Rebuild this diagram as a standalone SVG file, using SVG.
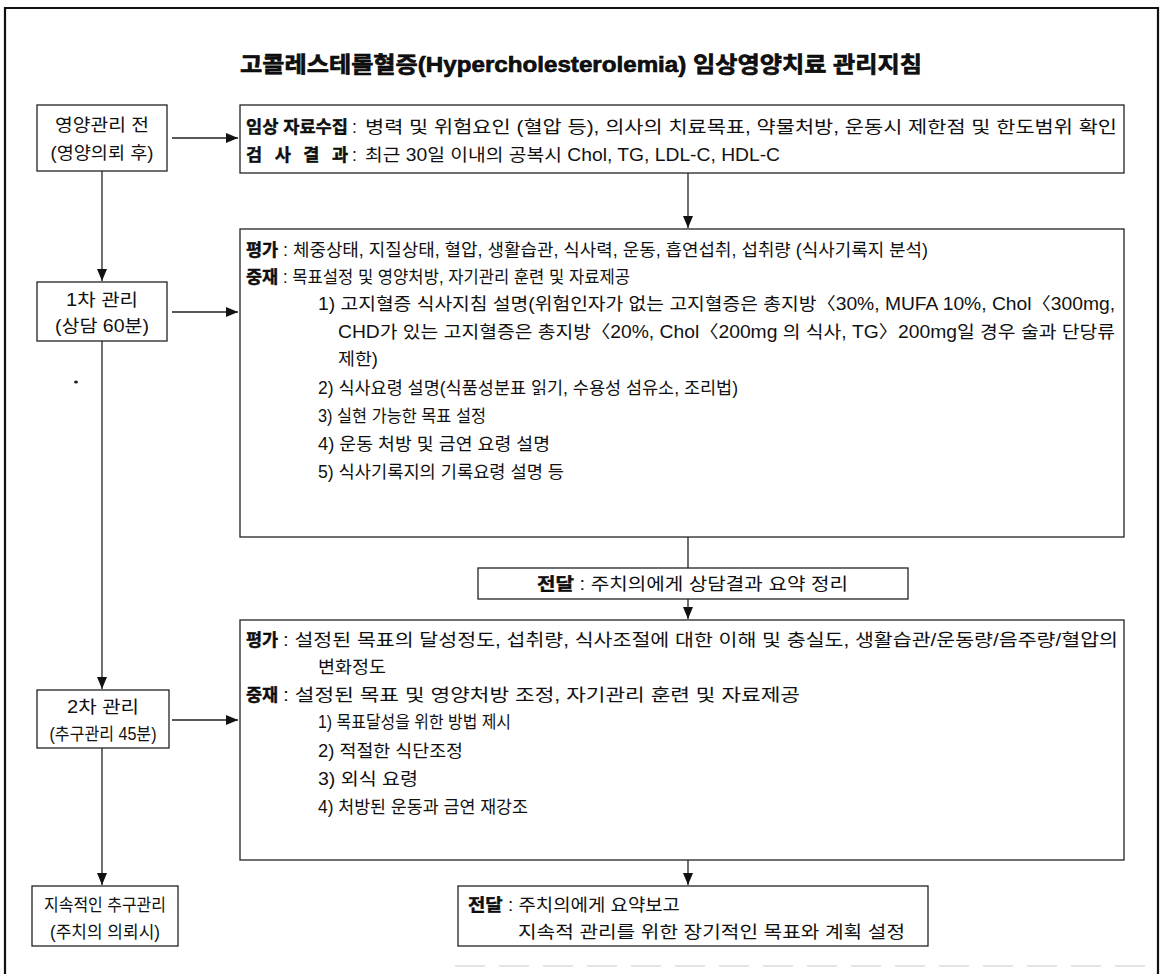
<svg xmlns="http://www.w3.org/2000/svg" width="1163" height="974" viewBox="0 0 1163 974">
<style>
text{font-family:"Liberation Sans","Noto Sans CJK KR",sans-serif;fill:#111;font-size:17.5px}
.t{font-size:22px;font-weight:bold;text-anchor:middle;stroke:#000;stroke-width:0.6}
.c{text-anchor:middle}
.b{font-weight:bold;stroke:#000;stroke-width:0.4}
.box{fill:#fff;stroke:#222;stroke-width:1.3}
.ln{stroke:#222;stroke-width:1.3;fill:none}
.frame{stroke:#111;stroke-width:2.2;fill:none}
</style>
<defs>
<marker id="ah" viewBox="0 0 12 10" refX="12" refY="5" markerWidth="12" markerHeight="10" markerUnits="userSpaceOnUse" orient="auto">
<path d="M0,0 L12,5 L0,10 Z" fill="#111"/>
</marker>
</defs>
<rect width="1163" height="974" fill="#fff"/>
<path class="frame" d="M5,974 V8 H1158 V974"/>
<path d="M455,966 H1155" stroke="#ddd" stroke-width="1.5" stroke-dasharray="30,14" fill="none"/>
<text class="t" x="581" y="72" textLength="682" lengthAdjust="spacingAndGlyphs">고콜레스테롤혈증(Hypercholesterolemia) 임상영양치료 관리지침</text>
<ellipse cx="76" cy="382" rx="2" ry="1.6" fill="#222"/>

<g id="connectors">
<line class="ln" x1="172" y1="138" x2="238" y2="138" marker-end="url(#ah)"/>
<line class="ln" x1="102" y1="171" x2="102" y2="281" marker-end="url(#ah)"/>
<line class="ln" x1="172" y1="312" x2="238" y2="312" marker-end="url(#ah)"/>
<line class="ln" x1="102" y1="341" x2="102" y2="689" marker-end="url(#ah)"/>
<line class="ln" x1="172" y1="720" x2="238" y2="720" marker-end="url(#ah)"/>
<line class="ln" x1="102" y1="748" x2="102" y2="885" marker-end="url(#ah)"/>
<line class="ln" x1="688" y1="173" x2="688" y2="228" marker-end="url(#ah)"/>
<line class="ln" x1="688" y1="537" x2="688" y2="568"/>
<line class="ln" x1="688" y1="599" x2="688" y2="619" marker-end="url(#ah)"/>
<line class="ln" x1="688" y1="860" x2="688" y2="885" marker-end="url(#ah)"/>
</g>

<g id="pre">
<rect class="box" x="37" y="105" width="130" height="66"/>
<text class="c" x="102" y="131" textLength="94" lengthAdjust="spacingAndGlyphs">영양관리 전</text>
<text class="c" x="102" y="159" textLength="103" lengthAdjust="spacingAndGlyphs">(영양의뢰 후)</text>
</g>

<g id="first">
<rect class="box" x="37" y="282" width="130" height="59"/>
<text class="c" x="102" y="306" textLength="72" lengthAdjust="spacingAndGlyphs">1차 관리</text>
<text class="c" x="102" y="332" textLength="94" lengthAdjust="spacingAndGlyphs">(상담 60분)</text>
</g>

<g id="second">
<rect class="box" x="37" y="690" width="132" height="58"/>
<text class="c" x="103" y="713" textLength="72" lengthAdjust="spacingAndGlyphs">2차 관리</text>
<text class="c" x="103" y="740" textLength="107" lengthAdjust="spacingAndGlyphs">(추구관리 45분)</text>
</g>

<g id="followup">
<rect class="box" x="32" y="886" width="146" height="60"/>
<text class="c" x="105" y="911" textLength="122" lengthAdjust="spacingAndGlyphs">지속적인 추구관리</text>
<text class="c" x="105" y="938" textLength="110" lengthAdjust="spacingAndGlyphs">(주치의 의뢰시)</text>
</g>

<g id="data">
<rect class="box" x="240" y="105" width="884" height="68"/>
<text class="b" x="246" y="133" textLength="102" lengthAdjust="spacingAndGlyphs">임상 자료수집</text>
<text x="352" y="133">:</text>
<text x="365" y="133" textLength="752" lengthAdjust="spacingAndGlyphs">병력 및 위험요인 (혈압 등), 의사의 치료목표, 약물처방, 운동시 제한점 및 한도범위 확인</text>
<text class="b" x="246" y="161" textLength="102" lengthAdjust="spacing">검 사 결 과</text>
<text x="352" y="161">:</text>
<text x="365" y="161" textLength="415" lengthAdjust="spacingAndGlyphs">최근 30일 이내의 공복시 Chol, TG, LDL-C, HDL-C</text>
</g>

<g id="session1">
<rect class="box" x="240" y="229" width="884" height="308"/>
<text class="b" x="246" y="256">평가</text>
<text x="283" y="256" textLength="645" lengthAdjust="spacingAndGlyphs">: 체중상태, 지질상태, 혈압, 생활습관, 식사력, 운동, 흡연섭취, 섭취량 (식사기록지 분석)</text>
<text class="b" x="246" y="283">중재</text>
<text x="283" y="283" textLength="347" lengthAdjust="spacingAndGlyphs">: 목표설정 및 영양처방, 자기관리 훈련 및 자료제공</text>
<text x="318" y="310" textLength="797" lengthAdjust="spacingAndGlyphs">1) 고지혈증 식사지침 설명(위험인자가 없는 고지혈증은 총지방〈30%, MUFA 10%, Chol〈300mg,</text>
<text x="338" y="338" textLength="777" lengthAdjust="spacingAndGlyphs">CHD가 있는 고지혈증은 총지방〈20%, Chol〈200mg 의 식사, TG〉200mg일 경우 술과 단당류</text>
<text x="338" y="365" textLength="40" lengthAdjust="spacingAndGlyphs">제한)</text>
<text x="318" y="394" textLength="420" lengthAdjust="spacingAndGlyphs">2) 식사요령 설명(식품성분표 읽기, 수용성 섬유소, 조리법)</text>
<text x="318" y="422" textLength="168" lengthAdjust="spacingAndGlyphs">3) 실현 가능한 목표 설정</text>
<text x="318" y="450" textLength="232" lengthAdjust="spacingAndGlyphs">4) 운동 처방 및 금연 요령 설명</text>
<text x="318" y="478" textLength="246" lengthAdjust="spacingAndGlyphs">5) 식사기록지의 기록요령 설명 등</text>
</g>

<g id="report1">
<rect class="box" x="478" y="568" width="430" height="31"/>
<text x="537" y="590" textLength="311" lengthAdjust="spacingAndGlyphs"><tspan class="b">전달</tspan> : 주치의에게 상담결과 요약 정리</text>
</g>

<g id="session2">
<rect class="box" x="240" y="620" width="884" height="240"/>
<text class="b" x="246" y="646">평가</text>
<text x="283" y="646" textLength="835" lengthAdjust="spacingAndGlyphs">: 설정된 목표의 달성정도, 섭취량, 식사조절에 대한 이해 및 충실도, 생활습관/운동량/음주량/혈압의</text>
<text x="318" y="673" textLength="68" lengthAdjust="spacingAndGlyphs">변화정도</text>
<text class="b" x="246" y="701">중재</text>
<text x="283" y="701" textLength="517" lengthAdjust="spacingAndGlyphs">: 설정된 목표 및 영양처방 조정, 자기관리 훈련 및 자료제공</text>
<text x="318" y="728" textLength="193" lengthAdjust="spacingAndGlyphs">1) 목표달성을 위한 방법 제시</text>
<text x="318" y="757" textLength="145" lengthAdjust="spacingAndGlyphs">2) 적절한 식단조정</text>
<text x="318" y="785" textLength="100" lengthAdjust="spacingAndGlyphs">3) 외식 요령</text>
<text x="318" y="813" textLength="210" lengthAdjust="spacingAndGlyphs">4) 처방된 운동과 금연 재강조</text>
</g>

<g id="report2">
<rect class="box" x="458" y="886" width="470" height="60"/>
<text x="468" y="911" textLength="212" lengthAdjust="spacingAndGlyphs"><tspan class="b">전달</tspan> : 주치의에게 요약보고</text>
<text x="518" y="938" textLength="387" lengthAdjust="spacingAndGlyphs">지속적 관리를 위한 장기적인 목표와 계획 설정</text>
</g>
</svg>
